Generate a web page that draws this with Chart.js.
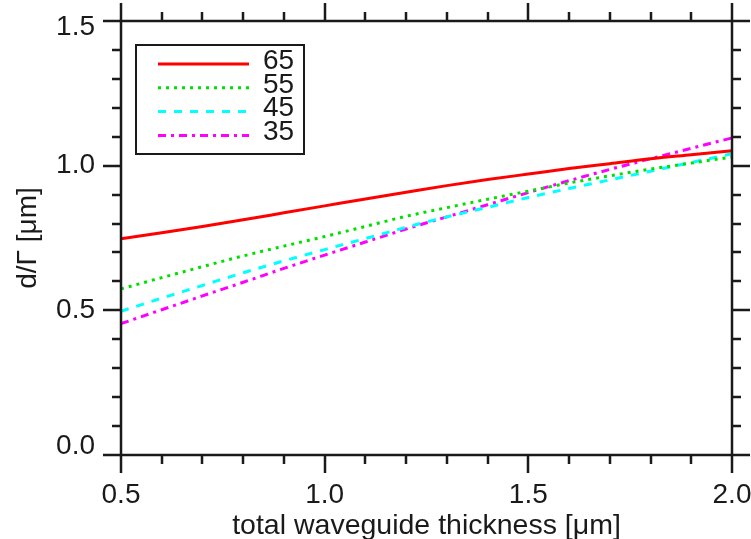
<!DOCTYPE html>
<html>
<head>
<meta charset="utf-8">
<script src="https://cdn.jsdelivr.net/npm/chart.js@4.4.0/dist/chart.umd.min.js"></script>
<style>
html, body { margin: 0; padding: 0; background: #fff; }
#wrap { width: 751px; height: 539px; }
</style>
</head>
<body>
<div id="wrap"><canvas id="chart" width="751" height="539"></canvas></div>
<script>
// data
const thickness = [0.5, 0.6, 0.7, 0.8, 0.9, 1.0, 1.1, 1.2, 1.3, 1.4, 1.5, 1.6, 1.7, 1.8, 1.9, 2.0];
const seriesNames = ['65', '55', '45', '35'];
const d65 = [0.747, 0.768, 0.790, 0.813, 0.837, 0.861, 0.885, 0.908, 0.931, 0.952, 0.971, 0.990, 1.007, 1.024, 1.038, 1.052];
const d55 = [0.574, 0.613, 0.651, 0.688, 0.722, 0.755, 0.790, 0.825, 0.855, 0.884, 0.912, 0.940, 0.965, 0.988, 1.009, 1.030];
const d45 = [0.497, 0.542, 0.586, 0.630, 0.671, 0.710, 0.748, 0.787, 0.823, 0.856, 0.890, 0.921, 0.951, 0.981, 1.011, 1.041];
const d35 = [0.454, 0.502, 0.550, 0.597, 0.645, 0.691, 0.736, 0.781, 0.823, 0.865, 0.907, 0.948, 0.987, 1.024, 1.060, 1.096];
const xTicks = [0.5, 1.0, 1.5, 2.0];
const yTicks = [0.0, 0.5, 1.0, 1.5];

const INK = '#1a1a1a';
const FONT = '"Liberation Sans", Arial, Helvetica, sans-serif';
Chart.defaults.font.family = FONT;
Chart.defaults.font.size = 28;
Chart.defaults.color = INK;

const styles = [
    { color: '#ff0000', dash: [] },
    { color: '#00e000', dash: [3, 5] },
    { color: '#00ffff', dash: [8, 8] },
    { color: '#ff00ff', dash: [8, 5, 3, 5] }
];

const toPoints = arr => arr.map((v, i) => ({ x: thickness[i], y: v }));

const datasets = [d65, d55, d45, d35].map((arr, i) => ({
    label: seriesNames[i],
    data: toPoints(arr),
    borderColor: styles[i].color,
    borderDash: styles[i].dash,
    borderWidth: 3,
    pointRadius: 0,
    cubicInterpolationMode: 'monotone',
    fill: false
}));

// frame with outward minor/major ticks on all four sides
const frameTicks = {
    id: 'frameTicks',
    afterDatasetsDraw(chart) {
        const { ctx, chartArea: a, scales: { x, y } } = chart;
        ctx.save();
        ctx.strokeStyle = INK;
        ctx.lineWidth = 2.5;
        ctx.strokeRect(a.left, a.top, a.right - a.left, a.bottom - a.top);
        ctx.beginPath();
        for (let i = 0; i <= 15; i++) {
            const px = Math.round(x.getPixelForValue(x.min + i * 0.1));
            const len = i % 5 === 0 ? 18 : 9;
            ctx.moveTo(px, a.bottom); ctx.lineTo(px, a.bottom + len);
            ctx.moveTo(px, a.top); ctx.lineTo(px, a.top - len);
        }
        for (let i = 0; i <= 15; i++) {
            const py = Math.round(y.getPixelForValue(y.min + i * 0.1));
            const len = i % 5 === 0 ? 18 : 9;
            ctx.moveTo(a.left, py); ctx.lineTo(a.left - len, py);
            ctx.moveTo(a.right, py); ctx.lineTo(a.right + len, py);
        }
        ctx.stroke();

        // y tick labels, the end ones nudged inside the axis range
        ctx.fillStyle = INK;
        ctx.font = '28px ' + FONT;
        ctx.textAlign = 'right';
        ctx.textBaseline = 'middle';
        yTicks.forEach(v => {
            let py = y.getPixelForValue(v);
            if (v === y.max) py += 6;
            if (v === y.min) py -= 9;
            ctx.fillText(v.toFixed(1), a.left - 26, py);
        });
        ctx.restore();
    }
};

// boxed legend in the upper left of the plot
const boxLegend = {
    id: 'boxLegend',
    afterDraw(chart) {
        const { ctx, chartArea: a } = chart;
        const bx = a.left + 15, by = a.top + 24, bw = 168, bh = 109;
        ctx.save();
        ctx.fillStyle = '#fff';
        ctx.fillRect(bx, by, bw, bh);
        ctx.strokeStyle = INK;
        ctx.lineWidth = 2;
        ctx.strokeRect(bx, by, bw, bh);
        chart.data.datasets.forEach((ds, i) => {
            const ry = by + 19 + i * 23.8;
            ctx.strokeStyle = ds.borderColor;
            ctx.lineWidth = 3;
            ctx.setLineDash(ds.borderDash);
            ctx.beginPath();
            ctx.moveTo(bx + 22, ry);
            ctx.lineTo(bx + 113, ry);
            ctx.stroke();
            ctx.setLineDash([]);
            ctx.fillStyle = INK;
            ctx.font = '28px ' + FONT;
            ctx.textBaseline = 'middle';
            ctx.fillText(ds.label, bx + 127, ry - 3);
        });
        ctx.restore();
    }
};

new Chart(document.getElementById('chart'), {
    type: 'line',
    data: { datasets: datasets },
    options: {
        responsive: false,
        animation: false,
        devicePixelRatio: 1,
        layout: { padding: { top: 21, right: 19, left: 0, bottom: 0 } },
        plugins: {
            legend: { display: false },
            tooltip: { enabled: false }
        },
        scales: {
            x: {
                type: 'linear',
                min: 0.5,
                max: 2.0,
                afterBuildTicks: s => { s.ticks = xTicks.map(v => ({ value: v })); },
                afterFit: s => { s.height = 84; s.paddingLeft = 0; s.paddingRight = 0; },
                grid: { display: false, drawTicks: false },
                border: { display: false },
                ticks: { padding: 23, maxRotation: 0, autoSkip: false, callback: v => v.toFixed(1) },
                title: { display: true, text: 'total waveguide thickness [μm]', font: { size: 28.5 }, padding: { top: 0, bottom: -4 } }
            },
            y: {
                type: 'linear',
                min: 0,
                max: 1.5,
                afterBuildTicks: s => { s.ticks = yTicks.map(v => ({ value: v })); },
                afterFit: s => { s.width = 121; s.paddingTop = 0; s.paddingBottom = 0; },
                grid: { display: false, drawTicks: false },
                border: { display: false },
                ticks: { display: false },
                title: { display: true, text: 'd/Γ [μm]', padding: { top: 11, bottom: 0 } }
            }
        }
    },
    plugins: [frameTicks, boxLegend]
});
</script>
</body>
</html>
